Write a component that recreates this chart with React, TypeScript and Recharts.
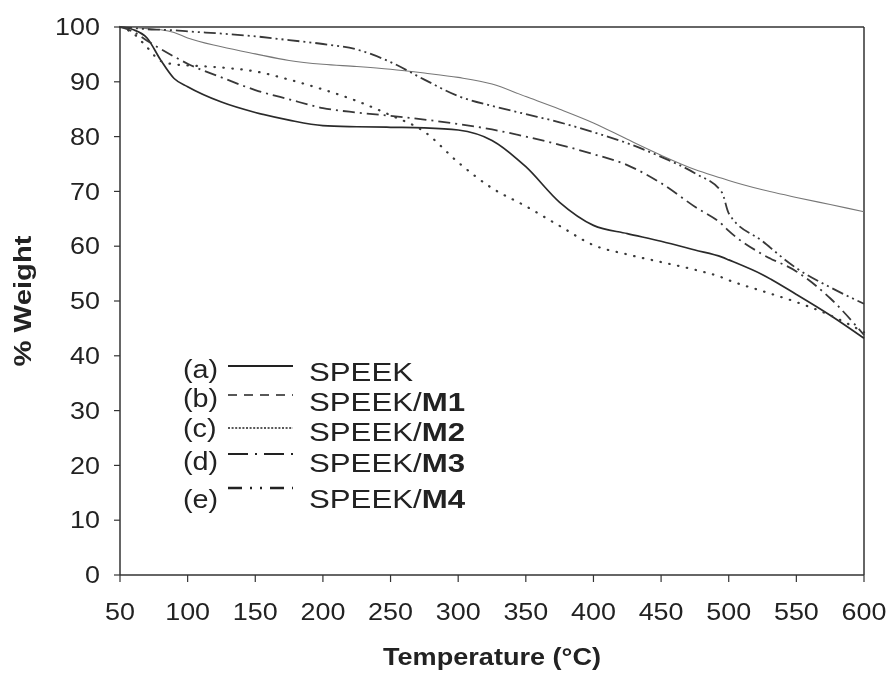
import React from 'react';
import { LineChart, Line, XAxis, YAxis, Legend, ReferenceLine } from 'recharts';

// TGA curves
const temperatures = [50, 60, 70, 80, 90, 100, 125, 150, 175, 200, 225, 250, 275, 300, 325, 350, 375, 400, 425, 450, 475, 495, 500, 525, 550, 575, 600];
const speek = [100, 99.5, 98.0, 94.0, 90.6, 89.1, 86.3, 84.4, 83.0, 82.0, 81.8, 81.7, 81.6, 81.2, 79.3, 74.5, 68.0, 63.8, 62.3, 60.9, 59.3, 58.0, 57.5, 54.8, 51.2, 47.4, 43.2];
const speekM1 = [100, 99.9, 99.7, 99.5, 99.0, 98.0, 96.4, 95.1, 93.9, 93.2, 92.8, 92.3, 91.6, 90.8, 89.6, 87.3, 85.0, 82.5, 79.5, 76.6, 74.0, 72.4, 72.0, 70.3, 68.9, 67.6, 66.3];
const speekM2 = [100, 98.8, 96.3, 93.8, 93.2, 93.0, 92.6, 91.9, 90.4, 88.6, 86.5, 83.9, 80.9, 75.3, 70.6, 67.3, 63.7, 60.2, 58.5, 57.1, 55.7, 54.3, 53.8, 51.8, 49.8, 47.4, 44.3];
const speekM3 = [100, 99.1, 97.5, 96.0, 94.6, 93.3, 90.8, 88.5, 86.8, 85.2, 84.4, 83.8, 83.1, 82.3, 81.3, 80.0, 78.5, 76.8, 74.8, 71.5, 67.2, 64.0, 62.8, 58.5, 55.4, 50.5, 43.8];
const speekM4 = [100, 99.8, 99.6, 99.5, 99.4, 99.2, 98.8, 98.3, 97.6, 96.9, 95.9, 93.6, 90.4, 87.4, 85.6, 84.1, 82.6, 80.8, 78.8, 76.3, 73.3, 69.8, 66.0, 60.9, 56.0, 52.5, 49.5];

const xTicks = [50, 100, 150, 200, 250, 300, 350, 400, 450, 500, 550, 600];
const yTicks = [0, 10, 20, 30, 40, 50, 60, 70, 80, 90, 100];

const legendTags = ['(a)', '(b)', '(c)', '(d)', '(e)'];
const legendNames = ['SPEEK', 'SPEEK/', 'SPEEK/', 'SPEEK/', 'SPEEK/'];
const legendBold = ['', 'M1', 'M2', 'M3', 'M4'];

const data = temperatures.map((t, i) => ({
  t,
  a: speek[i],
  b: speekM1[i],
  c: speekM2[i],
  d: speekM3[i],
  e: speekM4[i],
}));

const FONT = '"Liberation Sans", Arial, sans-serif';
const INK = '#222';

// stroke styles for each series in the plot
const seriesStyle = [
  { key: 'a', stroke: '#2a2a2a', width: 1.7, dash: undefined as string | undefined, cap: 'butt' },
  { key: 'b', stroke: '#777', width: 1.1, dash: undefined, cap: 'butt' },
  { key: 'c', stroke: '#3a3a3a', width: 2.2, dash: '0.5 8.5', cap: 'round' },
  { key: 'd', stroke: '#383838', width: 1.8, dash: '12 5 2 5', cap: 'butt' },
  { key: 'e', stroke: '#383838', width: 1.8, dash: '12 4 2 4 2 4', cap: 'butt' },
];

// the legend's own line samples
const legendDash = [undefined, '9 7', '2 1.6', '20 7 2 7', '14 8 2 8 2 8'];
const legendWidth = [1.8, 1.6, 1.5, 1.8, 2.4];
const rowTextY = [31, 61, 91, 122, 158];
const rowTagY = [28, 57, 87, 120, 158];
const rowLineY = [16, 45, 78, 104, 138];

const XTick = (props: any) => {
  const { x, y, payload } = props;
  return (
    <g transform={`translate(${x},${y})`}>
      <text transform="scale(1.17,1)" dy={38} textAnchor="middle" fontSize={23} fontFamily={FONT} fill={INK}>
        {payload.value}
      </text>
    </g>
  );
};

const YTick = (props: any) => {
  const { x, y, payload } = props;
  return (
    <g transform={`translate(${x - 14},${y})`}>
      <text transform="scale(1.17,1)" dy="0.36em" textAnchor="end" fontSize={23} fontFamily={FONT} fill={INK}>
        {payload.value}
      </text>
    </g>
  );
};

const LegendBox = () => (
  <svg width={340} height={180} style={{ overflow: 'visible' }}>
    {legendTags.map((tag, i) => (
      <g key={tag}>
        <g transform={`translate(13,${rowTagY[i]}) scale(1.15,1)`}>
          <text fontSize={25} fontFamily={FONT} fill={INK}>{tag}</text>
        </g>
        <line
          x1={58}
          x2={123}
          y1={rowLineY[i]}
          y2={rowLineY[i]}
          stroke={INK}
          strokeWidth={legendWidth[i]}
          strokeDasharray={legendDash[i]}
        />
        <g transform={`translate(139,${rowTextY[i]}) scale(1.2,1)`}>
          <text fontSize={26} fontFamily={FONT} fill={INK}>
            {legendNames[i]}
            {legendBold[i] && <tspan fontWeight="bold">{legendBold[i]}</tspan>}
          </text>
        </g>
      </g>
    ))}
  </svg>
);

export default function App() {
  return (
    <div style={{ height: 657 }}>
      <div style={{ position: 'fixed', left: 8, top: 8, width: 882, height: 665 }}>
        <LineChart
          width={882}
          height={665}
          data={data}
          margin={{ top: 19, right: 26, bottom: 38, left: 32 }}
        >
          <XAxis
            dataKey="t"
            type="number"
            domain={[50, 600]}
            ticks={xTicks}
            interval={0}
            height={60}
            tickSize={7}
            tickMargin={0}
            tick={<XTick />}
            axisLine={{ stroke: '#333', strokeWidth: 1.5 }}
            tickLine={{ stroke: '#333', strokeWidth: 1.2 }}
            label={{
              content: (p: any) => {
                const vb = p.viewBox;
                return (
                  <text
                    x={vb.x + vb.width / 2}
                    y={vb.y + 90}
                    textAnchor="middle"
                    fontSize={23}
                    fontWeight="bold"
                    fontFamily={FONT}
                    fill={INK}
                    textLength={218}
                    lengthAdjust="spacingAndGlyphs"
                  >
                    Temperature (°C)
                  </text>
                );
              },
            }}
          />
          <YAxis
            type="number"
            domain={[0, 100]}
            ticks={yTicks}
            interval={0}
            width={80}
            tickSize={6}
            tickMargin={0}
            tick={<YTick />}
            axisLine={{ stroke: '#333', strokeWidth: 1.5 }}
            tickLine={{ stroke: '#333', strokeWidth: 1.2 }}
            label={{
              content: (p: any) => {
                const vb = p.viewBox;
                const cx = vb.x - 17;
                const cy = 293;
                return (
                  <text
                    x={cx}
                    y={cy}
                    dy="0.36em"
                    transform={`rotate(-90 ${cx} ${cy})`}
                    textAnchor="middle"
                    fontSize={23}
                    fontWeight="bold"
                    fontFamily={FONT}
                    fill={INK}
                    textLength={131}
                    lengthAdjust="spacingAndGlyphs"
                  >
                    % Weight
                  </text>
                );
              },
            }}
          />
          <ReferenceLine y={100} stroke="#333" strokeWidth={1.5} />
          <ReferenceLine x={600} stroke="#333" strokeWidth={1.5} />
          {seriesStyle.map((s) => (
            <Line
              key={s.key}
              dataKey={s.key}
              type="monotone"
              stroke={s.stroke}
              strokeWidth={s.width}
              strokeDasharray={s.dash}
              strokeLinecap={s.cap as any}
              dot={false}
              activeDot={false}
              isAnimationActive={false}
            />
          ))}
          <Legend
            layout="vertical"
            align="center"
            verticalAlign="middle"
            content={<LegendBox />}
            wrapperStyle={{ position: 'absolute', left: 162, top: 342, width: 340, height: 180 }}
          />
        </LineChart>
      </div>
    </div>
  );
}
